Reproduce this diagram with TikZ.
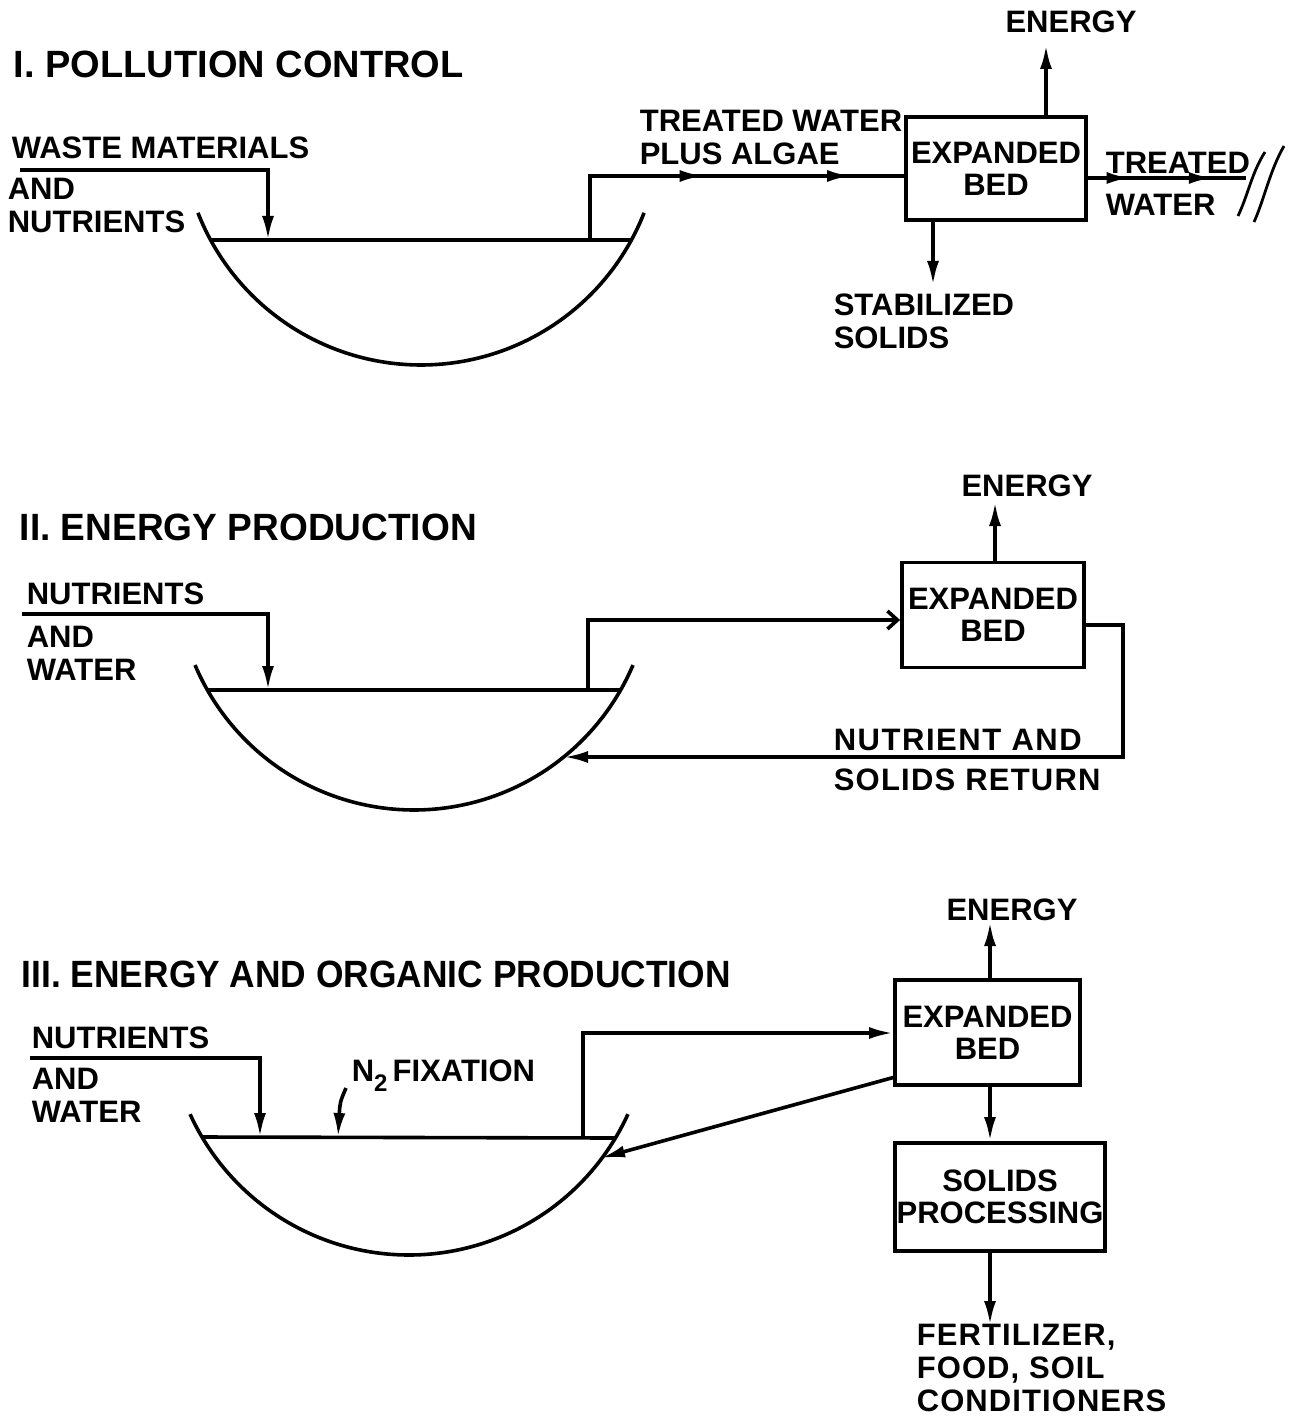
\documentclass[tikz,border=0pt]{standalone}
\usepackage{fontspec}
\setmainfont{Liberation Sans}
\usetikzlibrary{arrows.meta,decorations.markings}
\begin{document}
\begin{tikzpicture}[x=0.5pt,y=-0.5pt,line width=1.8pt,
  tip/.style={-{Latex[length=12pt,width=6pt]}},
  opentip/.style={-{Straight Barb[length=5pt,width=9pt]}},
  lbl/.style={font=\bfseries\fontsize{15.5}{16.5}\selectfont,inner sep=0pt,anchor=west,align=left},
  ttl/.style={font=\bfseries\fontsize{19}{22}\selectfont,inner sep=0pt,anchor=west},
  bx/.style={draw,line width=1.9pt,inner sep=0pt,align=center,font=\bfseries\fontsize{15.5}{16}\selectfont},
  midtips/.style 2 args={postaction={decorate},decoration={markings,
     mark=at position #1 with {\arrow{Latex[length=12pt,width=6pt]}},
     mark=at position #2 with {\arrow{Latex[length=12pt,width=6pt]}}}},
  brk/.style={line width=1.4pt}
]
\useasboundingbox (0,0) rectangle (1301,1422);

% ================= I. POLLUTION CONTROL =================
\node[ttl] (t1) at (12,64) {I. POLLUTION CONTROL};
\node[lbl] (wm) at (10,148) {WASTE MATERIALS};
\node[lbl] (an) at (6,205) {AND\\NUTRIENTS};
\node[lbl] (twa) at (638,137) {TREATED WATER\\PLUS ALGAE};
\node[bx,minimum width=90pt,minimum height=51.5pt] (b1) at (996,168.5) {EXPANDED\\BED};
\node[lbl,anchor=center] (e1) at (1071,22) {ENERGY};
\node[lbl] (st1) at (832,321) {STABILIZED\\SOLIDS};
\node[lbl] (tr1) at (1104,163) {TREATED};
\node[lbl] (wa1) at (1104,205) {WATER};

% pond I
\coordinate (p1L) at (211,240);
\coordinate (p1R) at (631,240);
\draw (p1L) -- (p1R);
\draw plot[domain=158.6:21.4,samples=90,smooth] ({421+239.6*cos(\x)},{125.4+239.6*sin(\x)});

\coordinate (in1) at (20,170);
\coordinate (d1) at (268,240);
\draw[tip] (in1) -| (d1);

\coordinate (o1) at (590,240);
\coordinate (o1t) at (590,176);
\draw[midtips={0.47}{0.86}] (o1) -- (o1t) -- (o1t -| b1.west);

\coordinate (e1a) at (1046,45);
\draw[tip] (e1a |- b1.north) -- (e1a);
\coordinate (s1a) at (933,285);
\draw[tip] (s1a |- b1.south) -- (s1a);

\coordinate (tw) at (1246,178);
\draw[midtips={0.27}{0.79}] (tw -| b1.east) -- (tw);
\draw[brk] (1238,216) .. controls (1248,195) and (1252,172) .. (1265,152);
\draw[brk] (1254,222) .. controls (1264,200) and (1270,170) .. (1284,146);

% ================= II. ENERGY PRODUCTION =================
\node[ttl] (t2) at (18,527) {\scalebox{0.975}[1]{II. ENERGY PRODUCTION}};
\node[lbl] (n2) at (25,594) {NUTRIENTS};
\node[lbl] (aw2) at (25,653) {AND\\WATER};
\node[bx,minimum width=91pt,minimum height=52.5pt] (b2) at (993,615) {EXPANDED\\BED};
\node[lbl,anchor=center] (e2) at (1027,486) {ENERGY};
\node[lbl,font=\bfseries\fontsize{15.5}{16.5}\selectfont\addfontfeatures{LetterSpace=5}] (na2) at (832,740) {NUTRIENT AND};
\node[lbl,font=\bfseries\fontsize{15.5}{16.5}\selectfont\addfontfeatures{LetterSpace=4}] (sr2) at (832,780) {SOLIDS RETURN};

\coordinate (p2L) at (207,690);
\coordinate (p2R) at (621,690);
\draw (p2L) -- (p2R);
\draw plot[domain=157:23,samples=90,smooth] ({414+237.9*cos(\x)},{572.1+237.9*sin(\x)});

\coordinate (in2) at (22,614);
\coordinate (d2) at (268,690);
\draw[tip] (in2) -| (d2);

\coordinate (o2) at (588,690);
\coordinate (o2t) at (588,620);
\draw[opentip] (o2) -- (o2t) -- (o2t -| b2.west);

\coordinate (e2a) at (995,502);
\draw[tip] (e2a |- b2.north) -- (e2a);

\coordinate (r2a) at (1123,625);
\coordinate (r2b) at (1123,757);
\coordinate (r2c) at (564,757);
\draw[tip] (r2a -| b2.east) -- (r2a) -- (r2b) -- (r2c);

% ================= III. ENERGY AND ORGANIC PRODUCTION =================
\node[ttl] (t3) at (20,974) {\scalebox{0.93}[1]{III. ENERGY AND ORGANIC PRODUCTION}};
\node[lbl] (n3) at (30,1038) {NUTRIENTS};
\node[lbl] (aw3) at (30,1095) {AND\\WATER};
\node[lbl] (nf) at (350,1076) {N\raisebox{-5pt}{\fontsize{12}{12}\selectfont 2}\,FIXATION};
\node[bx,minimum width=92.5pt,minimum height=52.5pt] (b3) at (987.5,1032.5) {EXPANDED\\BED};
\node[bx,minimum width=105pt,minimum height=54pt] (sp) at (1000,1197) {SOLIDS\\PROCESSING};
\node[lbl,anchor=center] (e3) at (1012,910) {ENERGY};
\node[lbl,font=\bfseries\fontsize{15.5}{16.5}\selectfont\addfontfeatures{LetterSpace=3.5}] (fe) at (915,1368) {FERTILIZER,\\FOOD, SOIL\\CONDITIONERS};

\coordinate (p3L) at (202,1137);
\coordinate (p3R) at (616,1138);
\draw (p3L) -- (p3R);
\draw plot[domain=155.5:24.5,samples=90,smooth] ({409+240.6*cos(\x)},{1014.4+240.6*sin(\x)});

\coordinate (in3) at (30,1058);
\coordinate (d3) at (260,1137);
\draw[tip] (in3) -| (d3);

\coordinate (nfa) at (346,1088);
\coordinate (nfb) at (338,1137);
\draw[tip] (nfa) .. controls (340,1102) .. (nfb);

\coordinate (o3) at (583,1138);
\coordinate (o3t) at (583,1033);
\draw[tip] (o3) -- (o3t) -- (o3t -| b3.west);

\coordinate (r3a) at (895,1077);
\coordinate (r3b) at (601,1158);
\draw[tip] (r3a) -- (r3b);

\coordinate (e3a) at (990,922);
\draw[tip] (e3a |- b3.north) -- (e3a);
\draw[tip] (e3a |- b3.south) -- (e3a |- sp.north);
\coordinate (fo) at (990,1325);
\draw[tip] (fo |- sp.south) -- (fo);
\end{tikzpicture}
\end{document}
